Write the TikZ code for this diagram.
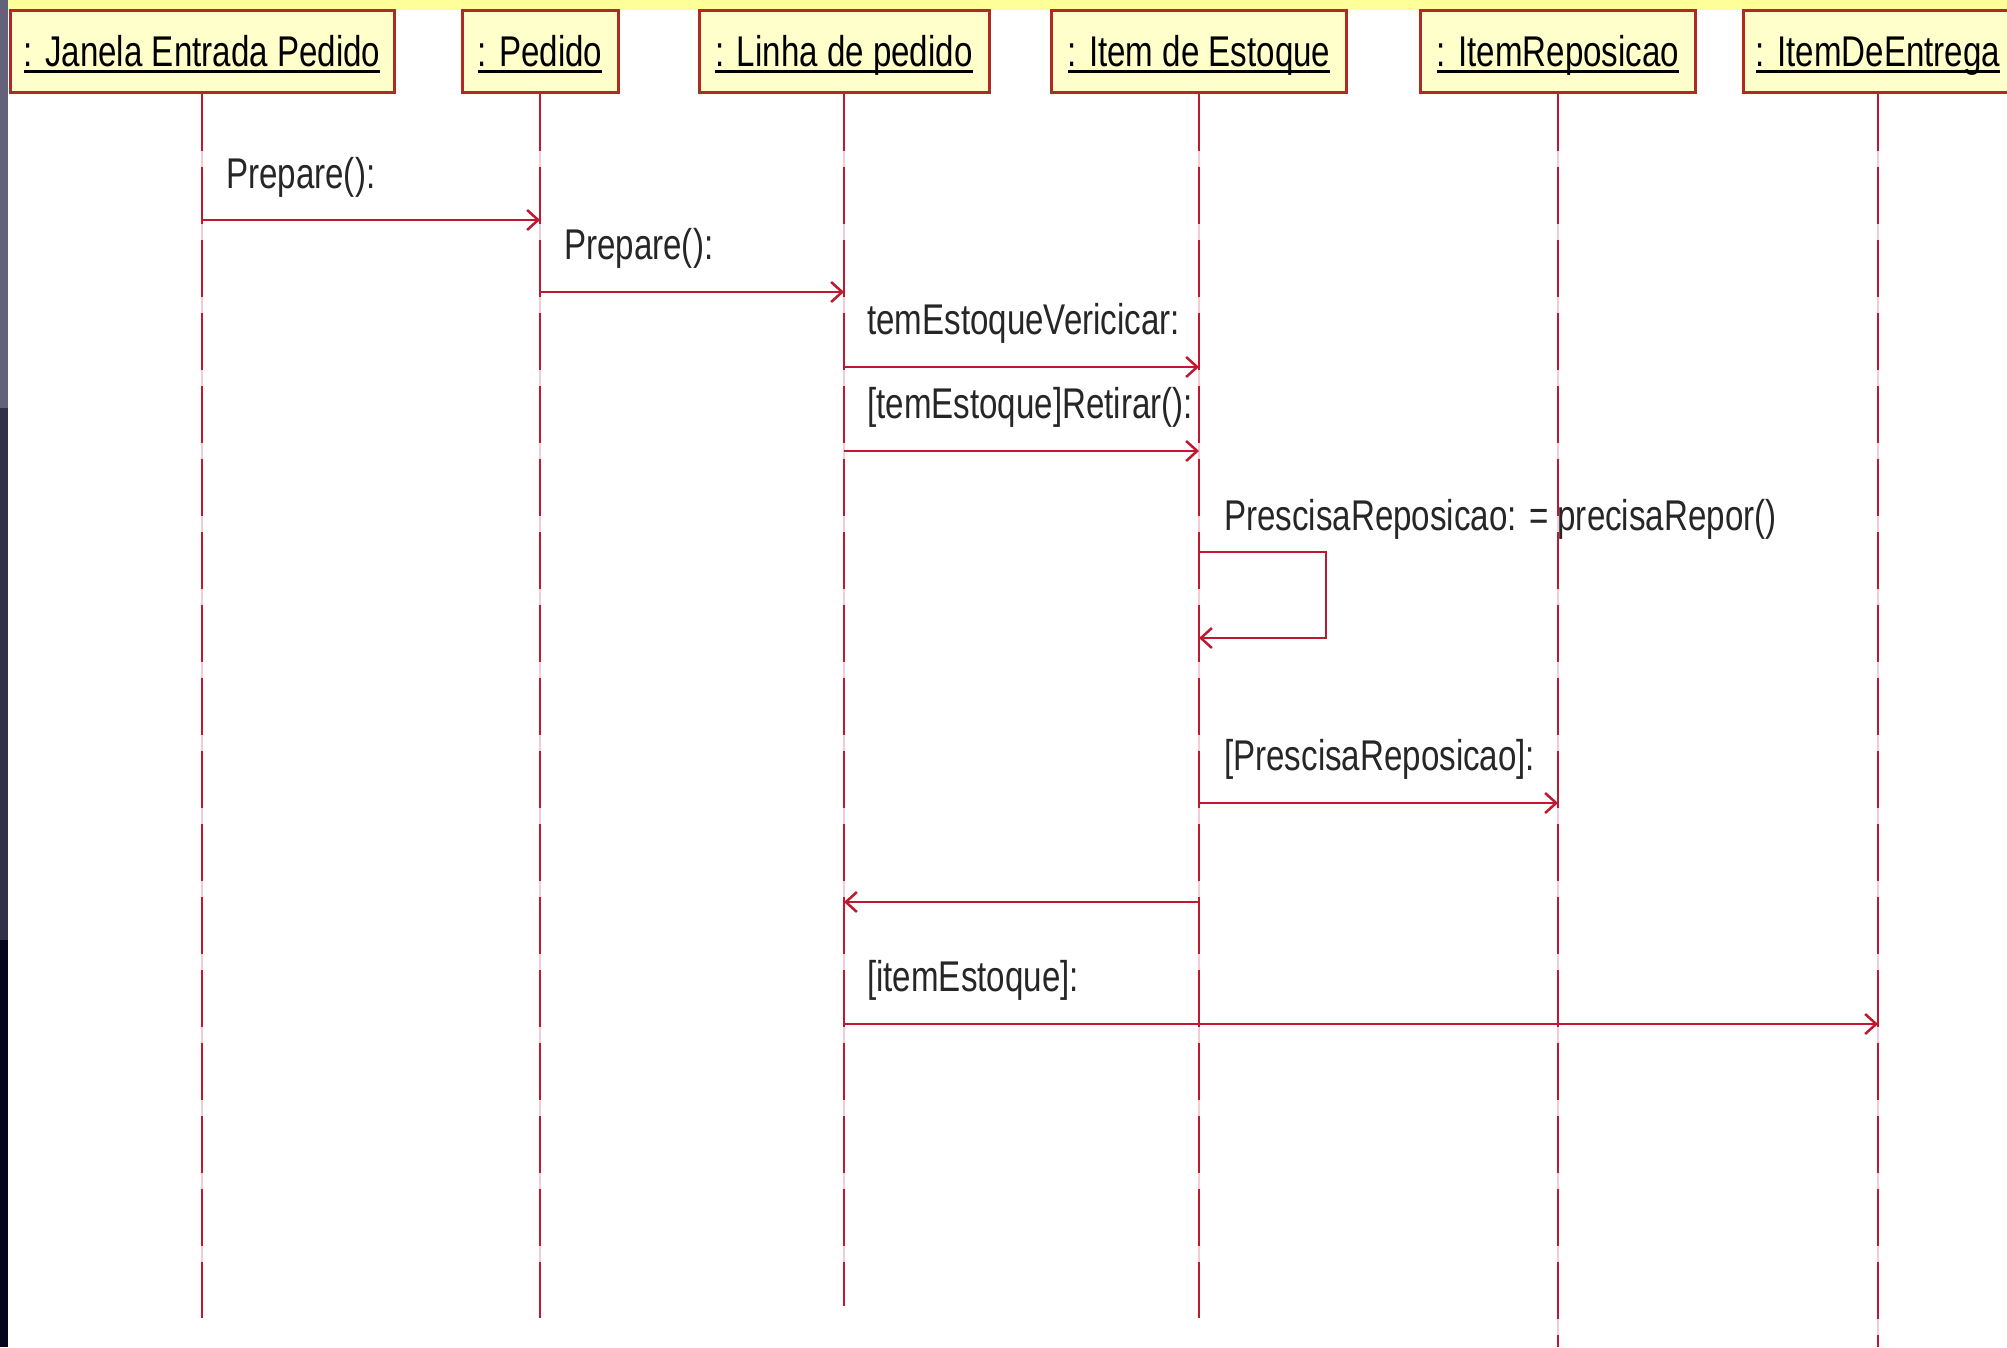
\documentclass[tikz,border=0pt]{standalone}
\usepackage{fontspec}
\setmainfont{Liberation Sans}[FakeStretch=0.77]
\usetikzlibrary{arrows.meta}
\definecolor{lnred}{HTML}{C01830}
\definecolor{lnpink}{HTML}{F6CCD4}
\definecolor{boxfill}{HTML}{FFFFCC}
\definecolor{boxedge}{HTML}{B02A22}
\definecolor{topband}{HTML}{FFFF99}
\definecolor{stripA}{HTML}{62627A}
\definecolor{stripB}{HTML}{31314A}
\definecolor{stripC}{HTML}{06061A}
\definecolor{lbltext}{HTML}{262626}
\newcommand\myul[1]{\setbox0=\hbox{#1}\rlap{\rule[-7pt]{\wd0}{3.5pt}}\box0}
\begin{document}
\begin{tikzpicture}[x=1pt,y=-1pt,
  hdr/.style={draw=boxedge, fill=boxfill, line width=3pt, minimum height=82pt,
    inner sep=0pt, text height=37pt, text depth=7pt,
    font=\fontsize{43pt}{50pt}\selectfont, text=black},
  lifebg/.style={draw=lnpink, line width=2.6pt},
  life/.style={draw=lnred, line width=2.6pt, dash pattern=on 57pt off 16pt},
  msg/.style={draw=lnred, line width=2.7pt, -{Straight Barb[length=11pt,width=20pt,line width=2.5pt]}},
  lbl/.style={anchor=base west, inner sep=0pt, font=\fontsize{43pt}{50pt}\selectfont, text=lbltext}]
\useasboundingbox (0,0) rectangle (2007,1347);
\fill[white] (0,0) rectangle (2007,1347);
% left strip and top band
\fill[stripA] (0,0) rectangle (8,408);
\fill[stripB] (0,408) rectangle (8,940);
\fill[stripC] (0,940) rectangle (8,1347);
\fill[topband] (8,0) rectangle (2007,10);
% headers
\node[hdr, minimum width=384pt] (h1) at (202,51) {\myul{: Janela Entrada Pedido}};
\node[hdr, minimum width=156pt] (h2) at (540,51) {\myul{: Pedido}};
\node[hdr, minimum width=290pt] (h3) at (844,51) {\myul{: Linha de pedido}};
\node[hdr, minimum width=295pt] (h4) at (1199,51) {\myul{: Item de Estoque}};
\node[hdr, minimum width=275pt] (h5) at (1558,51) {\myul{: ItemReposicao}};
\node[hdr, minimum width=270pt] (h6) at (1878,51) {\myul{: ItemDeEntrega}};
% lifeline ends
\coordinate (e1) at (202,1318);
\coordinate (e2) at (540,1318);
\coordinate (e3) at (844,1306);
\coordinate (e4) at (1199,1318);
\coordinate (e5) at (1558,1347);
\coordinate (e6) at (1878,1347);
\foreach \i in {1,...,6}{
  \draw[lifebg] (h\i.south) -- (e\i);
  \draw[life] (h\i.south) -- (e\i);
}
% messages
\draw[msg] (h1 |- 0,220) -- (h2 |- 0,220);
\node[lbl] (t1) at (226,188) {Prepare():};
\draw[msg] (h2 |- 0,292) -- (h3 |- 0,292);
\node[lbl] (t2) at (564,259) {Prepare():};
\draw[msg] (h3 |- 0,367) -- (h4 |- 0,367);
\node[lbl] (t3) at (867,334) {temEstoqueVericicar:};
\draw[msg] (h3 |- 0,451) -- (h4 |- 0,451);
\node[lbl] (t4) at (867,418) {[temEstoque]Retirar():};
\draw[msg] (h4 |- 0,552) -- (1326,552) |- (h4 |- 0,638);
\node[lbl] (t5) at (1224,530) {PrescisaReposicao: = precisaRepor()};
\draw[msg] (h4 |- 0,803) -- (h5 |- 0,803);
\node[lbl] (t6) at (1224,770) {[PrescisaReposicao]:};
\draw[msg] (h4 |- 0,902) -- (h3 |- 0,902);
\draw[msg] (h3 |- 0,1024) -- (h6 |- 0,1024);
\node[lbl] (t7) at (867,991) {[itemEstoque]:};
\end{tikzpicture}
\end{document}
